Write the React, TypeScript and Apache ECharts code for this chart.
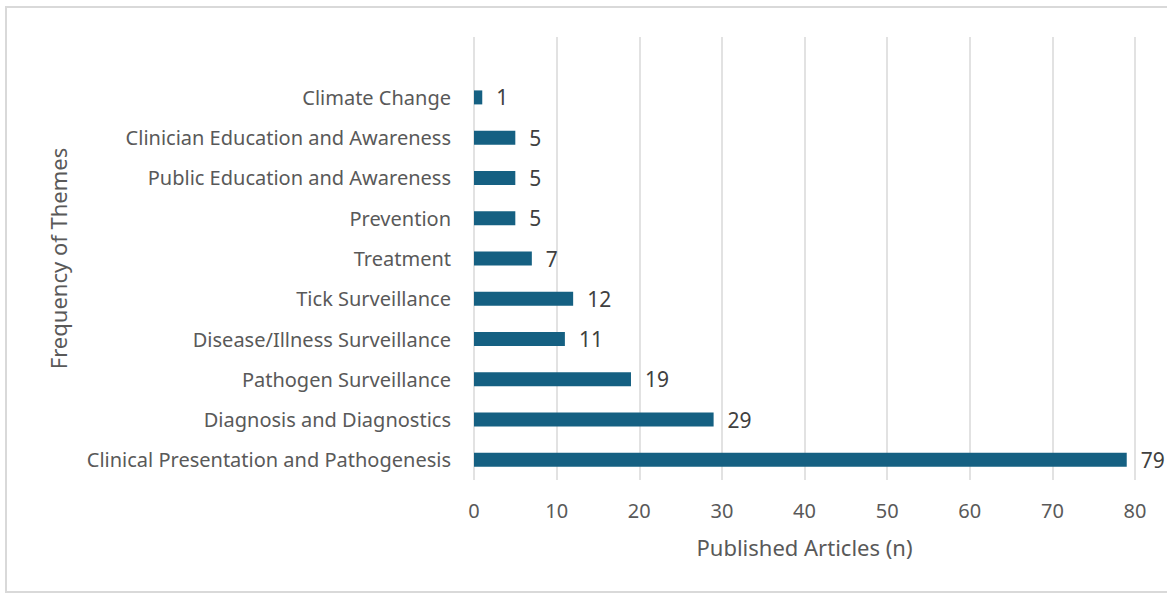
import React, { useEffect, useRef } from "react";
import * as echarts from "echarts";

const categories = [
  "Clinical Presentation and Pathogenesis",
  "Diagnosis and Diagnostics",
  "Pathogen Surveillance",
  "Disease/Illness Surveillance",
  "Tick Surveillance",
  "Treatment",
  "Prevention",
  "Public Education and Awareness",
  "Clinician Education and Awareness",
  "Climate Change",
  "",
];
const values: (number | null)[] = [79, 29, 19, 11, 12, 7, 5, 5, 5, 1, null];
const xTicks = { min: 0, max: 80, interval: 10 };

const FONT = "'Noto Sans', 'Open Sans', sans-serif";

export default function App() {
  const ref = useRef<HTMLDivElement>(null);
  useEffect(() => {
    if (!ref.current) return;
    const chart = echarts.init(ref.current, undefined, { renderer: "svg" });
    chart.setOption({
      animation: false,
      backgroundColor: "#ffffff",
      textStyle: { fontFamily: FONT },
      graphic: [
        {
          type: "rect",
          shape: { x: 6, y: 7, width: 1175, height: 585 },
          style: { fill: "none", stroke: "#d9d9d9", lineWidth: 2 },
          silent: true,
          z: -10,
        },
      ],
      grid: { left: 474, right: 32, top: 37, bottom: 114, containLabel: false },
      xAxis: {
        type: "value",
        min: xTicks.min,
        max: xTicks.max,
        interval: xTicks.interval,
        name: "Published Articles (n)",
        nameLocation: "middle",
        nameGap: 56,
        nameTextStyle: { color: "#595959", fontSize: 22, fontFamily: FONT },
        axisLine: { show: false },
        axisTick: { show: false },
        axisLabel: { color: "#595959", fontSize: 20, margin: 20, fontFamily: FONT },
        splitLine: { show: true, lineStyle: { color: "#d9d9d9", width: 1.5 } },
      },
      yAxis: {
        type: "category",
        data: categories,
        name: "Frequency of Themes",
        nameLocation: "middle",
        nameGap: 405,
        nameRotate: 90,
        nameTextStyle: { color: "#595959", fontSize: 22, fontFamily: FONT },
        axisLine: { show: false },
        axisTick: { show: false },
        splitLine: { show: false },
        axisLabel: { color: "#595959", fontSize: 20, margin: 23, fontFamily: FONT },
      },
      series: [
        {
          type: "bar",
          data: values,
          barWidth: 14,
          itemStyle: { color: "#156082" },
          label: {
            show: true,
            position: "right",
            distance: 14,
            color: "#404040",
            fontSize: 21,
            fontFamily: FONT,
          },
        },
      ],
    });
    return () => chart.dispose();
  }, []);
  return (
    <div
      ref={ref}
      style={{ position: "absolute", left: 0, top: 0, width: 1167, height: 594 }}
    />
  );
}
